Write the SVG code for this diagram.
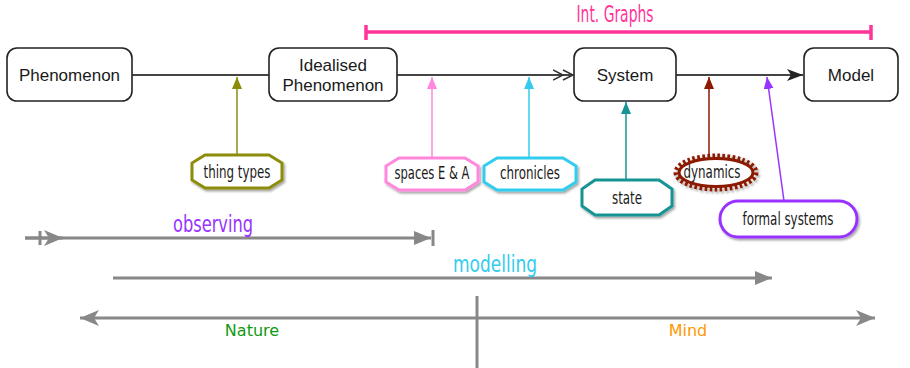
<svg xmlns="http://www.w3.org/2000/svg" width="910" height="368" viewBox="0 0 910 368">
<style>
.box{fill:#fff;stroke:#222;stroke-width:1.6}
.nt{font-family:"Liberation Sans",Arial,sans-serif;font-size:17px;fill:#1a1a1a;text-anchor:middle}
.ct{font-family:"DejaVu Sans Condensed","Liberation Sans Narrow","Liberation Sans",sans-serif;font-size:18px;fill:#1a1a1a;text-anchor:middle}
.bt{font-family:"DejaVu Sans Condensed","Liberation Sans Narrow","Liberation Sans",sans-serif;font-size:23px;text-anchor:middle}
.dv{font-family:"DejaVu Sans",Verdana,sans-serif;font-size:16px;text-anchor:middle}
.main{stroke:#444;stroke-width:2;fill:none}
.gray{stroke:#888;stroke-width:3;fill:none}
.oct{fill:#fff;stroke-width:3;filter:url(#sh)}
</style>
<defs>
<filter id="sh" x="-20%" y="-30%" width="150%" height="170%">
<feDropShadow dx="1.5" dy="2" stdDeviation="1.2" flood-color="#000" flood-opacity="0.35"/>
</filter>
<marker id="aOlive" markerUnits="userSpaceOnUse" markerWidth="12" markerHeight="14" refX="12" refY="5" orient="auto"><path d="M0,0 L12,5 L0,10 z" fill="#8c8c0a"/></marker>
<marker id="aPink" markerUnits="userSpaceOnUse" markerWidth="12" markerHeight="14" refX="12" refY="5" orient="auto"><path d="M0,0 L12,5 L0,10 z" fill="#ff88dd"/></marker>
<marker id="aCyan" markerUnits="userSpaceOnUse" markerWidth="12" markerHeight="14" refX="12" refY="5" orient="auto"><path d="M0,0 L12,5 L0,10 z" fill="#33ccee"/></marker>
<marker id="aTeal" markerUnits="userSpaceOnUse" markerWidth="12" markerHeight="14" refX="12" refY="5" orient="auto"><path d="M0,0 L12,5 L0,10 z" fill="#189494"/></marker>
<marker id="aRed" markerUnits="userSpaceOnUse" markerWidth="12" markerHeight="14" refX="12" refY="5" orient="auto"><path d="M0,0 L12,5 L0,10 z" fill="#8b1a00"/></marker>
<marker id="aPurple" markerUnits="userSpaceOnUse" markerWidth="12" markerHeight="14" refX="12" refY="5" orient="auto"><path d="M0,0 L12,5 L0,10 z" fill="#9933ff"/></marker>
<marker id="aDark" markerUnits="userSpaceOnUse" markerWidth="18" markerHeight="14" refX="16" refY="6" orient="auto"><path d="M0,0 L16,6 L0,12 L4,6 z" fill="#222"/></marker>
<marker id="aDouble" markerUnits="userSpaceOnUse" markerWidth="24" markerHeight="14" refX="20" refY="6" orient="auto"><path d="M0,1 L10,6 L0,11 M10,1 L20,6 L10,11" fill="none" stroke="#333" stroke-width="1.5"/></marker>
<marker id="gStealth" markerUnits="userSpaceOnUse" markerWidth="22" markerHeight="18" refX="19" refY="8" orient="auto"><path d="M0,0 L19,8 L0,16 L5,8 z" fill="#888"/></marker>
<marker id="gTri" markerUnits="userSpaceOnUse" markerWidth="20" markerHeight="16" refX="17" refY="7" orient="auto"><path d="M0,0 L17,7 L0,14 z" fill="#888"/></marker>
</defs>

<g id="int-graphs">
<path d="M366,32 H871 M366,25 V40 M871,25 V40" stroke="#ff3399" stroke-width="3.5" fill="none"/>
<text class="bt" x="615" y="22" fill="#ff3399" textLength="77" lengthAdjust="spacingAndGlyphs">Int. Graphs</text>
</g>

<g id="connectors">
<path class="main" d="M132,75 H269"/>
<path class="main" d="M397,75 H573" marker-end="url(#aDouble)"/>
<path class="main" d="M676,75 H803" marker-end="url(#aDark)"/>
<path d="M237,155 V77" stroke="#8c8c0a" stroke-width="1.5" marker-end="url(#aOlive)"/>
<path d="M432,158 V77" stroke="#ff88dd" stroke-width="1.5" marker-end="url(#aPink)"/>
<path d="M529,158 V77" stroke="#33ccee" stroke-width="1.5" marker-end="url(#aCyan)"/>
<path d="M626,180 V102" stroke="#189494" stroke-width="1.5" marker-end="url(#aTeal)"/>
<path d="M709,155 V77" stroke="#8b1a00" stroke-width="1.5" marker-end="url(#aRed)"/>
<path d="M784,201 L767,77" stroke="#9933ff" stroke-width="1.5" marker-end="url(#aPurple)"/>
</g>

<g id="phenomenon"><rect class="box" x="7" y="48" width="125" height="53" rx="10"/><text class="nt" x="69.5" y="81">Phenomenon</text></g>
<g id="idealised-phenomenon"><rect class="box" x="269" y="48" width="128" height="53" rx="10"/><text class="nt" x="333" y="71">Idealised</text><text class="nt" x="333" y="91">Phenomenon</text></g>
<g id="system"><rect class="box" x="574" y="48" width="102" height="53" rx="10"/><text class="nt" x="625" y="81">System</text></g>
<g id="model"><rect class="box" x="804" y="48" width="94" height="53" rx="10"/><text class="nt" x="851" y="81">Model</text></g>

<g id="thing-types"><polygon class="oct" stroke="#8c8c0a" points="205,155 269,155 282,163 282,180 269,188 205,188 192,180 192,163"/><text class="ct" x="237" y="178" textLength="67" lengthAdjust="spacingAndGlyphs">thing types</text></g>
<g id="spaces"><polygon class="oct" stroke="#ff88dd" points="399,158 465,158 478,166 478,182 465,190 399,190 386,182 386,166"/><text class="ct" x="432" y="179" textLength="75" lengthAdjust="spacingAndGlyphs">spaces E &amp; A</text></g>
<g id="chronicles"><polygon class="oct" stroke="#33ccee" points="497,158 563,158 576,166 576,182 563,190 497,190 484,182 484,166"/><text class="ct" x="530" y="179" textLength="60" lengthAdjust="spacingAndGlyphs">chronicles</text></g>
<g id="state"><polygon class="oct" stroke="#189494" points="595,180 659,180 672,189 672,206 659,215 595,215 582,206 582,189"/><text class="ct" x="627" y="204" textLength="30" lengthAdjust="spacingAndGlyphs">state</text></g>
<g id="dynamics">
<ellipse cx="716" cy="172.5" rx="40" ry="16.5" fill="none" stroke="#8b1a00" stroke-width="5" stroke-dasharray="2.6 2.4" filter="url(#sh)"/>
<ellipse cx="716" cy="172.5" rx="37" ry="14" fill="#fff" stroke="#8b1a00" stroke-width="3"/>
<text class="ct" x="712" y="178" textLength="57" lengthAdjust="spacingAndGlyphs">dynamics</text></g>
<g id="formal-systems"><rect class="oct" stroke="#9933ff" x="720" y="201" width="137" height="36" rx="18"/><text class="ct" x="788" y="225" textLength="91" lengthAdjust="spacingAndGlyphs">formal systems</text></g>

<g id="observing">
<path class="gray" d="M25,238 H431" marker-end="url(#gTri)"/>
<path class="gray" d="M25,238 H63" marker-end="url(#gStealth)"/>
<path class="gray" d="M40,231 V245 M433,230 V246"/>
<text class="bt" x="213" y="232" fill="#9933ff" textLength="80" lengthAdjust="spacingAndGlyphs">observing</text>
</g>
<g id="modelling">
<path class="gray" d="M113,278 H772" marker-end="url(#gTri)"/>
<text class="bt" x="495" y="272" fill="#33ccee" textLength="84" lengthAdjust="spacingAndGlyphs">modelling</text>
</g>
<g id="nature-mind">
<path class="gray" d="M477,318 H875" marker-end="url(#gStealth)"/>
<path class="gray" d="M477,318 H80" marker-end="url(#gStealth)"/>
<path class="gray" d="M477,296 V368"/>
<text class="dv" x="252" y="336" fill="#119911">Nature</text>
<text class="dv" x="688" y="336" fill="#ff9900">Mind</text>
</g>
</svg>
